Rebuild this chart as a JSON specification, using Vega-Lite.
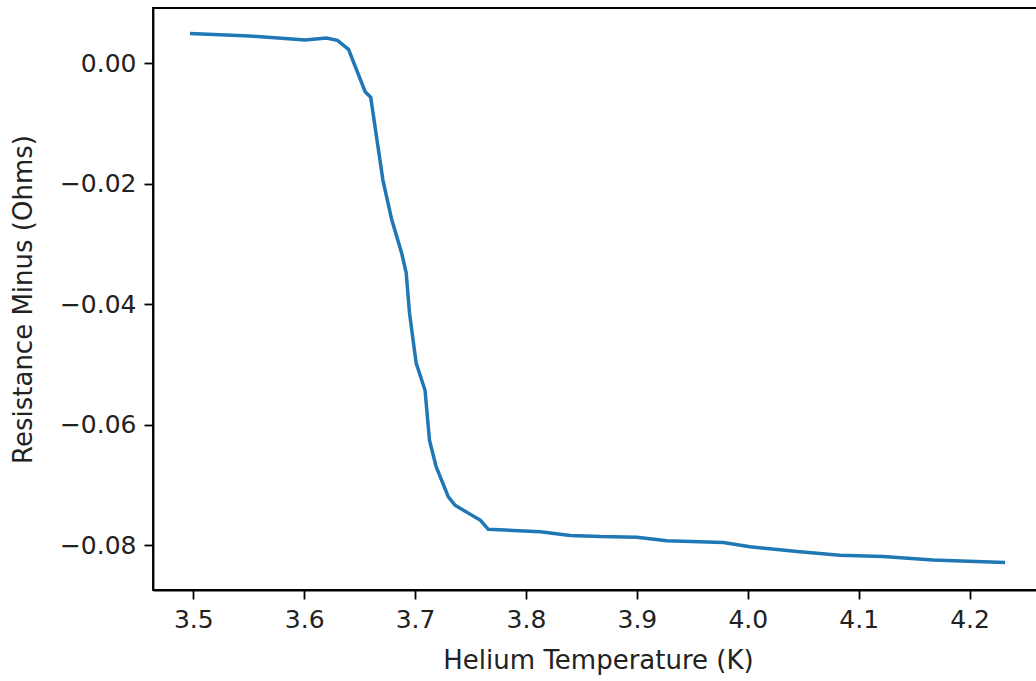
{
  "$schema": "https://vega.github.io/schema/vega-lite/v6.json",
  "autosize": {"type": "none"},
  "padding": {"left": 153, "top": 8, "right": -7, "bottom": 91},
  "width": 890,
  "height": 582,
  "background": "white",
  "config": {
    "view": {"stroke": "black", "strokeWidth": 1.8},
    "font": "DejaVu Sans",
    "axis": {
      "grid": false,
      "domainColor": "black",
      "domainWidth": 1.8,
      "tickColor": "black",
      "tickWidth": 1.8,
      "tickSize": 9,
      "labelFont": "DejaVu Sans",
      "labelFontSize": 25,
      "labelColor": "#222",
      "labelPadding": 8,
      "titleFont": "DejaVu Sans",
      "titleFontSize": 26,
      "titleFontWeight": "normal",
      "titleColor": "#222"
    }
  },
  "data": {
    "values": [
      {"T": 3.497, "R": 0.00493},
      {"T": 3.551, "R": 0.00453},
      {"T": 3.601, "R": 0.00387},
      {"T": 3.620, "R": 0.00418},
      {"T": 3.630, "R": 0.00380},
      {"T": 3.640, "R": 0.00230},
      {"T": 3.655, "R": -0.00472},
      {"T": 3.660, "R": -0.00565},
      {"T": 3.671, "R": -0.0194},
      {"T": 3.679, "R": -0.0260},
      {"T": 3.688, "R": -0.0316},
      {"T": 3.692, "R": -0.0348},
      {"T": 3.695, "R": -0.0415},
      {"T": 3.701, "R": -0.0498},
      {"T": 3.709, "R": -0.0543},
      {"T": 3.713, "R": -0.0626},
      {"T": 3.719, "R": -0.0670},
      {"T": 3.730, "R": -0.0720},
      {"T": 3.736, "R": -0.0734},
      {"T": 3.759, "R": -0.0759},
      {"T": 3.766, "R": -0.0774},
      {"T": 3.813, "R": -0.0778},
      {"T": 3.840, "R": -0.0784},
      {"T": 3.867, "R": -0.0786},
      {"T": 3.900, "R": -0.0787},
      {"T": 3.927, "R": -0.0793},
      {"T": 3.978, "R": -0.0796},
      {"T": 4.002, "R": -0.0803},
      {"T": 4.047, "R": -0.0811},
      {"T": 4.083, "R": -0.0817},
      {"T": 4.122, "R": -0.0819},
      {"T": 4.167, "R": -0.0825},
      {"T": 4.232, "R": -0.0829}
    ]
  },
  "mark": {"type": "line", "color": "#1f77b4", "strokeWidth": 3.5, "interpolate": "linear"},
  "encoding": {
    "x": {
      "field": "T",
      "type": "quantitative",
      "title": "Helium Temperature (K)",
      "scale": {"domain": [3.4637, 4.2662], "nice": false, "zero": false},
      "axis": {"values": [3.5, 3.6, 3.7, 3.8, 3.9, 4.0, 4.1, 4.2], "format": ".1f", "titlePadding": 15}
    },
    "y": {
      "field": "R",
      "type": "quantitative",
      "title": "Resistance Minus (Ohms)",
      "scale": {"domain": [-0.08747, 0.00918], "nice": false, "zero": false},
      "axis": {"values": [-0.08, -0.06, -0.04, -0.02, 0], "format": ".2f", "titlePadding": 23}
    }
  }
}
